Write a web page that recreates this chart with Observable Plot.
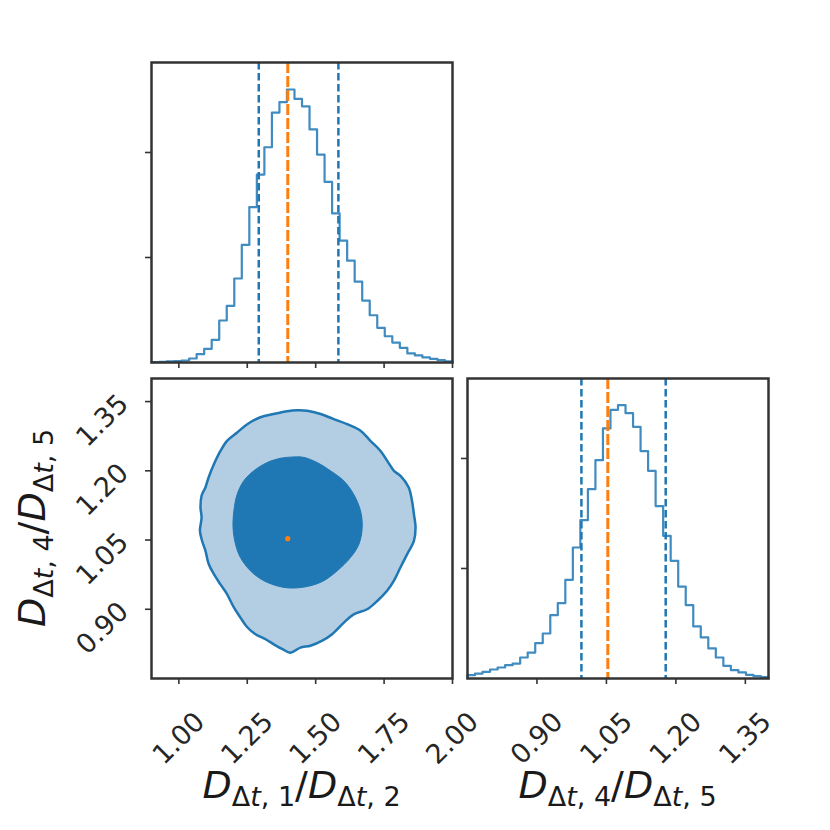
<!DOCTYPE html>
<html><head><meta charset="utf-8">
<script src="https://cdn.jsdelivr.net/npm/d3@7"></script>
<script src="https://cdn.jsdelivr.net/npm/@observablehq/plot@0.6"></script>
<style>
body{margin:0;background:#fff;}
#fig{position:relative;width:830px;height:830px;background:#fff;font-family:"DejaVu Sans";overflow:hidden;}
#fig svg{position:absolute;}
</style></head><body><div id="fig"></div>
<script>
// ---- data ----
const ratio12Range = [0.9, 2.0];          // D_dt1/D_dt2 axis range
const ratio45Range = [0.75, 1.40];        // D_dt4/D_dt5 axis range
const ratio12Ticks = [1.00, 1.25, 1.50, 1.75, 2.00];
const ratio45Ticks = [0.90, 1.05, 1.20, 1.35];
// 40-bin normalised histograms
const ratio12Hist = [0.003,0.006,0.01,0.013,0.019,0.038,0.079,0.13,0.216,0.4,0.54,0.8,1.12,1.48,1.79,2.05,2.38,2.48,2.6,2.51,2.44,2.22,1.98,1.72,1.42,1.16,0.97,0.77,0.59,0.45,0.33,0.25,0.19,0.14,0.086,0.067,0.048,0.035,0.022,0.01];
const ratio45Hist = [0.03,0.045,0.061,0.082,0.1,0.121,0.136,0.191,0.236,0.321,0.409,0.576,0.685,0.897,1.191,1.439,1.721,1.985,2.273,2.442,2.485,2.412,2.288,2.067,1.888,1.567,1.297,1.07,0.836,0.667,0.473,0.373,0.273,0.191,0.115,0.076,0.055,0.033,0.021,0.012];
const hist12Max = 2.857, hist45Max = 2.727;
const histTicks = [1, 2];
const ratio12Quantiles = [1.292, 1.583];
const ratio45Quantiles = [0.996, 1.178];
const truth = {ratio12: 1.398, ratio45: 1.053};
// 2D credible contours (x = D1/D2, y = D4/D5)
const contourOuter = [[1.432,1.331],[1.396,1.329],[1.347,1.323],[1.298,1.316],[1.250,1.301],[1.213,1.283],[1.176,1.265],[1.152,1.243],[1.128,1.214],[1.109,1.186],[1.097,1.164],[1.083,1.146],[1.079,1.121],[1.083,1.099],[1.077,1.070],[1.085,1.048],[1.097,1.027],[1.109,0.998],[1.128,0.976],[1.152,0.954],[1.176,0.933],[1.201,0.904],[1.225,0.882],[1.250,0.861],[1.280,0.846],[1.317,0.835],[1.347,0.824],[1.377,0.814],[1.408,0.806],[1.444,0.817],[1.481,0.821],[1.524,0.832],[1.560,0.846],[1.603,0.871],[1.639,0.889],[1.688,0.900],[1.725,0.918],[1.761,0.940],[1.786,0.962],[1.810,0.991],[1.834,1.019],[1.859,1.048],[1.865,1.077],[1.859,1.106],[1.852,1.135],[1.840,1.164],[1.810,1.189],[1.786,1.200],[1.761,1.222],[1.737,1.243],[1.700,1.265],[1.664,1.287],[1.615,1.301],[1.566,1.312],[1.518,1.323],[1.469,1.330]];
const contourInner = [[1.420,1.230],[1.371,1.227],[1.323,1.218],[1.274,1.200],[1.237,1.178],[1.213,1.149],[1.201,1.113],[1.198,1.077],[1.207,1.041],[1.225,1.012],[1.262,0.983],[1.310,0.962],[1.371,0.949],[1.420,0.946],[1.481,0.951],[1.530,0.962],[1.578,0.983],[1.627,1.012],[1.658,1.041],[1.670,1.077],[1.664,1.113],[1.639,1.149],[1.603,1.178],[1.554,1.200],[1.505,1.218],[1.457,1.229]];

// ---- styles ----
const C0 = "#1f77b4", C1 = "#ff7f0e", LIGHT = "#b3cde3", INK = "#333";
const fmt = d => d.toFixed(2);

function steps([lo, hi], counts) {
  const w = (hi - lo) / counts.length;
  const pts = [{x: lo, y: 0}];
  counts.forEach((c, i) => pts.push({x: lo + i * w, y: c}));
  pts.push({x: hi, y: counts[counts.length - 1]});
  pts.push({x: hi, y: 0});
  return pts;
}
const baseStyle = {background: "transparent", overflow: "visible", fontFamily: "DejaVu Sans"};
const tickOpts = {tickSize: 6, fill: "none", stroke: INK, strokeWidth: 1.6, label: null};
const labelOpts = {fontSize: 27, fill: "#262626", rotate: -45, textAnchor: "middle", lineAnchor: "middle"};

function place(svg, left, top) {
  svg.style.left = left + "px"; svg.style.top = top + "px";
  document.getElementById("fig").appendChild(svg);
}

// top-left histogram
const A = Plot.plot({
  width: 331, height: 330, marginLeft: 20, marginRight: 10, marginTop: 10, marginBottom: 20,
  style: baseStyle,
  x: {domain: ratio12Range}, y: {domain: [0, hist12Max]},
  marks: [
    Plot.line(steps(ratio12Range, ratio12Hist), {x: "x", y: "y", curve: "step-after", stroke: C0, strokeWidth: 2.2, strokeOpacity: 0.85}),
    Plot.ruleX(ratio12Quantiles, {stroke: C0, strokeWidth: 2.5, strokeDasharray: "7.5,3.5"}),
    Plot.ruleX([truth.ratio12], {stroke: C1, strokeWidth: 3, strokeDasharray: "11,3"}),
    Plot.axisX(ratio12Ticks, tickOpts),
    Plot.axisY(histTicks, tickOpts),
    Plot.frame({stroke: INK, strokeWidth: 2.5})
  ]
});
place(A, 131, 52);

// bottom-left 2D contours
const B = Plot.plot({
  width: 401, height: 420, marginLeft: 90, marginRight: 10, marginTop: 10, marginBottom: 110,
  style: baseStyle,
  x: {domain: ratio12Range}, y: {domain: ratio45Range},
  marks: [
    Plot.line(contourOuter, {x: d => d[0], y: d => d[1], curve: "catmull-rom-closed", fill: LIGHT, stroke: C0, strokeWidth: 2.5}),
    Plot.line(contourInner, {x: d => d[0], y: d => d[1], curve: "catmull-rom-closed", fill: C0, stroke: C0, strokeWidth: 1}),
    Plot.dot([[truth.ratio12, truth.ratio45]], {x: d => d[0], y: d => d[1], r: 2.6, fill: C1, stroke: null}),
    Plot.axisX(ratio12Ticks, tickOpts),
    Plot.axisY(ratio45Ticks, tickOpts),
    Plot.text(ratio12Ticks, {x: d => d, text: fmt, frameAnchor: "bottom", dy: 60, ...labelOpts}),
    Plot.text(ratio45Ticks, {y: d => d, text: fmt, frameAnchor: "left", dx: -49, dy: 19, ...labelOpts}),
    Plot.frame({stroke: INK, strokeWidth: 2.5})
  ]
});
place(B, 61, 368);

// bottom-right histogram
const Cp = Plot.plot({
  width: 361, height: 420, marginLeft: 20, marginRight: 40, marginTop: 10, marginBottom: 110,
  style: baseStyle,
  x: {domain: ratio45Range}, y: {domain: [0, hist45Max]},
  marks: [
    Plot.line(steps(ratio45Range, ratio45Hist), {x: "x", y: "y", curve: "step-after", stroke: C0, strokeWidth: 2.2, strokeOpacity: 0.85}),
    Plot.ruleX(ratio45Quantiles, {stroke: C0, strokeWidth: 2.5, strokeDasharray: "7.5,3.5"}),
    Plot.ruleX([truth.ratio45], {stroke: C1, strokeWidth: 3, strokeDasharray: "11,3"}),
    Plot.axisX(ratio45Ticks, tickOpts),
    Plot.axisY(histTicks, tickOpts),
    Plot.text(ratio45Ticks, {x: d => d, text: fmt, frameAnchor: "bottom", dy: 60, ...labelOpts}),
    Plot.frame({stroke: INK, strokeWidth: 2.5})
  ]
});
place(Cp, 447, 368);

// axis titles (math-style with subscripts)
const NS = "http://www.w3.org/2000/svg";
const ov = document.createElementNS(NS, "svg");
ov.setAttribute("width", 830); ov.setAttribute("height", 830);
ov.style.left = "0px"; ov.style.top = "0px";
function mathLabel(a, b, x, y, rot) {
  const t = document.createElementNS(NS, "text");
  t.setAttribute("x", 0); t.setAttribute("y", 0);
  t.setAttribute("transform", `translate(${x},${y})` + (rot ? ` rotate(${rot})` : ""));
  t.setAttribute("text-anchor", "middle");
  t.setAttribute("font-family", "DejaVu Sans");
  t.setAttribute("font-size", 38);
  t.setAttribute("fill", "#1a1a1a");
  t.setAttribute("style", "white-space:pre");
  const parts = [
    ["D", {italic: true}], ["Δ", {sub: true, dy: 8}], ["t", {sub: true, italic: true}], [", " + a, {sub: true}],
    ["/", {dy: -8}], ["D", {italic: true}], ["Δ", {sub: true, dy: 8}], ["t", {sub: true, italic: true}], [", " + b, {sub: true}]
  ];
  for (const [s, o] of parts) {
    const sp = document.createElementNS(NS, "tspan");
    sp.textContent = s;
    if (o.italic) sp.setAttribute("font-style", "italic");
    if (o.sub) sp.setAttribute("font-size", 27);
    if (o.dy) sp.setAttribute("dy", o.dy);
    t.appendChild(sp);
  }
  ov.appendChild(t);
}
mathLabel("1", "2", 301.5, 798, 0);
mathLabel("4", "5", 617.5, 798, 0);
mathLabel("4", "5", 45, 528, -90);
document.getElementById("fig").appendChild(ov);
</script></body></html>
